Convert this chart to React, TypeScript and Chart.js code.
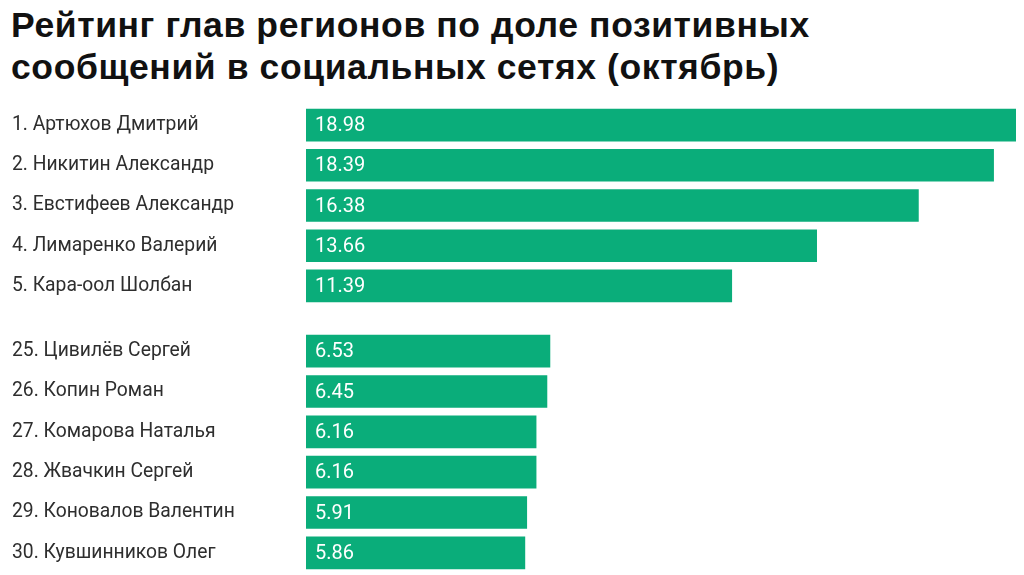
import React, { useEffect, useRef } from "react";
import { Chart, registerables } from "chart.js";

Chart.register(...registerables);

const titleLines = ["Рейтинг глав регионов по доле позитивных", "сообщений в социальных сетях (октябрь)"];
const topNames = ["1. Артюхов Дмитрий", "2. Никитин Александр", "3. Евстифеев Александр", "4. Лимаренко Валерий", "5. Кара-оол Шолбан"];
const topValues = [18.98, 18.39, 16.38, 13.66, 11.39];
const bottomNames = ["25. Цивилёв Сергей", "26. Копин Роман", "27. Комарова Наталья", "28. Жвачкин Сергей", "29. Коновалов Валентин", "30. Кувшинников Олег"];
const bottomValues = [6.53, 6.45, 6.16, 6.16, 5.91, 5.86];
const xMax = 18.98;

const BAR_COLOR = "#0aad7a";
const FONT = "Roboto, 'Noto Sans', sans-serif";
const TITLE_FONT = "'Liberation Sans', Arial, sans-serif";

const valueLabels = {
  id: "valueLabels",
  afterDatasetsDraw(chart: any) {
    const ctx = chart.ctx;
    const meta = chart.getDatasetMeta(0);
    const data = chart.data.datasets[0].data as number[];
    ctx.save();
    ctx.fillStyle = "#ffffff";
    ctx.font = `20px ${FONT}`;
    ctx.textAlign = "left";
    ctx.textBaseline = "middle";
    meta.data.forEach((bar: any, i: number) => {
      ctx.fillText(data[i].toFixed(2), bar.base + 9, bar.y + 1);
    });
    ctx.restore();
  },
};

function BarBlock({ labels, values, height }: { labels: string[]; values: number[]; height: number }) {
  const ref = useRef<HTMLCanvasElement | null>(null);
  useEffect(() => {
    if (!ref.current) return;
    const chart = new Chart(ref.current, {
      type: "bar",
      data: {
        labels,
        datasets: [
          {
            data: values,
            backgroundColor: BAR_COLOR,
            borderWidth: 0,
            barPercentage: 0.81,
            categoryPercentage: 1,
          },
        ],
      },
      options: {
        indexAxis: "y",
        responsive: false,
        animation: false,
        layout: { padding: { left: 12, right: 8, top: 0, bottom: 0 } },
        plugins: { legend: { display: false }, tooltip: { enabled: false } },
        scales: {
          x: { display: false, min: 0, max: xMax, grid: { display: false } },
          y: {
            grid: { display: false, drawTicks: false },
            border: { display: false },
            ticks: {
              crossAlign: "far",
              color: "#2e2e2e",
              font: { family: FONT, size: 19.3 },
              padding: 0,
            },
            afterFit: (scale: any) => {
              scale.width = 294;
              scale.paddingTop = 0;
              scale.paddingBottom = 0;
            },
          },
        },
      },
      plugins: [valueLabels],
    } as any);
    return () => chart.destroy();
  }, []);
  return <canvas ref={ref} width={1024} height={height} style={{ display: "block" }} />;
}

export default function App() {
  return (
    <div style={{ position: "fixed", left: 0, top: 0, width: 1024, height: 575, background: "#fff", overflow: "hidden" }}>
      <div
        style={{
          position: "absolute",
          left: 11,
          top: 4,
          fontFamily: TITLE_FONT,
          fontWeight: 700,
          fontSize: 35.5,
          letterSpacing: "0.6px",
          lineHeight: "42px",
          color: "#111",
          whiteSpace: "nowrap",
        }}
      >
        {titleLines.map((t) => (
          <div key={t}>{t}</div>
        ))}
      </div>
      <div style={{ position: "absolute", left: 0, top: 105 }}>
        <BarBlock labels={topNames} values={topValues} height={201} />
      </div>
      <div style={{ position: "absolute", left: 0, top: 331 }}>
        <BarBlock labels={bottomNames} values={bottomValues} height={242} />
      </div>
    </div>
  );
}
